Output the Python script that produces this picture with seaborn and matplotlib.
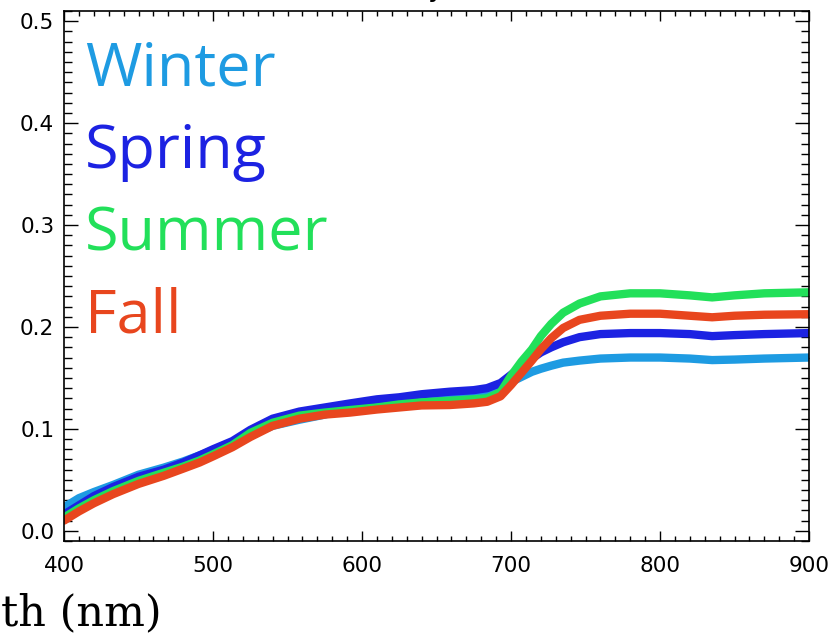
import numpy as np
import pandas as pd
import matplotlib
matplotlib.use("Agg")
import matplotlib.pyplot as plt
from matplotlib.ticker import MultipleLocator
import seaborn as sns

# wavelength grid (nm) and seasonal reflectance
wavelength = [400, 410, 420, 433, 450, 467, 480, 491, 500, 513, 525, 540, 558, 575, 592,
              610, 625, 640, 659, 675, 684, 693, 700, 707, 714, 720, 727, 735, 746, 760,
              780, 800, 820, 835, 850, 870, 900]
winter = [0.023, 0.032, 0.038, 0.045, 0.055, 0.062, 0.068, 0.074, 0.079, 0.087, 0.094, 0.103,
          0.109, 0.114, 0.122, 0.125, 0.128, 0.130, 0.132, 0.134, 0.135, 0.139, 0.146, 0.151,
          0.156, 0.159, 0.162, 0.165, 0.167, 0.169, 0.170, 0.170, 0.169, 0.1675, 0.168, 0.169, 0.170]
spring = [0.016, 0.025, 0.034, 0.043, 0.053, 0.060, 0.067, 0.074, 0.080, 0.088, 0.099, 0.110,
          0.117, 0.121, 0.125, 0.129, 0.131, 0.134, 0.1365, 0.138, 0.140, 0.145, 0.153, 0.161,
          0.169, 0.175, 0.180, 0.185, 0.190, 0.193, 0.194, 0.194, 0.193, 0.191, 0.192, 0.193, 0.194]
summer = [0.013, 0.022, 0.030, 0.039, 0.049, 0.057, 0.063, 0.069, 0.075, 0.084, 0.096, 0.106,
          0.113, 0.116, 0.1185, 0.121, 0.124, 0.126, 0.1276, 0.129, 0.130, 0.136, 0.152, 0.166,
          0.178, 0.191, 0.203, 0.214, 0.223, 0.230, 0.233, 0.233, 0.231, 0.229, 0.231, 0.233, 0.234]
fall = [0.010, 0.019, 0.027, 0.036, 0.046, 0.054, 0.061, 0.067, 0.073, 0.082, 0.092, 0.103,
        0.110, 0.114, 0.116, 0.119, 0.121, 0.123, 0.1234, 0.125, 0.1266, 0.132, 0.143, 0.155,
        0.167, 0.178, 0.189, 0.199, 0.207, 0.211, 0.213, 0.213, 0.211, 0.2095, 0.211, 0.212, 0.2125]

seasons = ["Winter", "Spring", "Summer", "Fall"]
colors = ["#1E9BE2", "#1C22E2", "#22E05A", "#E8461E"]

df = pd.concat([
    pd.DataFrame({"wl": wavelength, "refl": vals, "season": s})
    for s, vals in zip(seasons, [winter, spring, summer, fall])
])

sns.set_style("ticks")
plt.rcParams["font.family"] = ["DejaVu Sans"]

fig = plt.figure(figsize=(8.33, 6.38), dpi=100)
ax = fig.add_axes([64 / 833, 1 - 541 / 638, (809 - 64) / 833, (541 - 11) / 638])

sns.lineplot(data=df, x="wl", y="refl", hue="season", hue_order=seasons,
             palette=colors, linewidth=6.0, legend=False, sort=False, ax=ax)

ax.set_xlim(400, 900)
ax.set_ylim(-0.01, 0.51)
ax.xaxis.set_major_locator(MultipleLocator(100))
ax.xaxis.set_minor_locator(MultipleLocator(10))
ax.yaxis.set_major_locator(MultipleLocator(0.1))
ax.yaxis.set_minor_locator(MultipleLocator(0.01))
ax.yaxis.set_major_formatter(matplotlib.ticker.FormatStrFormatter("%.1f"))
ax.tick_params(axis="both", which="both", direction="in", top=True, right=True,
               colors="black", labelcolor="black", width=1.0)
ax.tick_params(axis="both", which="major", labelsize=15.5)
ax.tick_params(axis="x", which="major", length=7.2, pad=11)
ax.tick_params(axis="x", which="minor", length=3.6)
ax.tick_params(axis="y", which="major", length=10, pad=7)
ax.tick_params(axis="y", which="minor", length=5.8)
for sp in ax.spines.values():
    sp.set_linewidth(1.2)
    sp.set_color("black")
ax.set_xlabel("")
ax.set_ylabel("")

# season labels used as legend
label_y = [0.437, 0.356, 0.275, 0.195]
for s, c, yv in zip(seasons, colors, label_y):
    ax.text(414, yv, s, color=c, fontsize=44, family=["Open Sans", "DejaVu Sans"],
            ha="left", va="baseline")

# clipped axis title and figure title remnants
fig.text(1 / 833, 1 - 625 / 638, "th (nm)", fontsize=31, color="black",
         family=["DejaVu Serif"], ha="left", va="baseline")
fig.text(435 / 833, 1 + 4 / 638, "y", fontsize=20, color="black", ha="center", va="baseline")

fig.savefig("out.png", dpi=100)
